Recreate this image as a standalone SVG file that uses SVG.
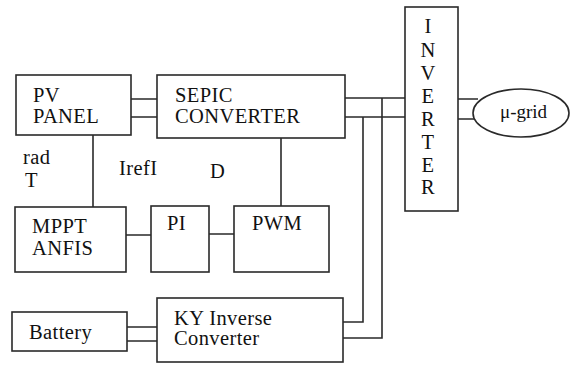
<svg xmlns="http://www.w3.org/2000/svg" width="571" height="367" viewBox="0 0 571 367">
<style>
.box{fill:#fff;stroke:#2a2a2a;stroke-width:1.6}
.ln{fill:none;stroke:#2a2a2a;stroke-width:1.6}
text{font-family:"Liberation Serif","Times New Roman",serif;font-size:20.5px;letter-spacing:0.4px;fill:#111}
.inv{text-anchor:middle}
</style>
<rect width="571" height="367" fill="#fff"/>
<g id="connectors">
<path class="ln" d="M131 99H157M131 117H157"/>
<path class="ln" d="M93 135V207"/>
<path class="ln" d="M281 138V206"/>
<path class="ln" d="M126 235H151M209 234H234"/>
<path class="ln" d="M345 98H405M345 117H405"/>
<path class="ln" d="M382 98V338H343M363 117V322H343"/>
<path class="ln" d="M127 327H157M127 341H157"/>
<path class="ln" d="M458 99H478M458 119H476"/>
</g>
<g id="pv">
<rect class="box" x="16" y="75" width="115" height="60"/>
<text x="33" y="102">PV</text>
<text x="33" y="123">PANEL</text>
</g>
<g id="sepic">
<rect class="box" x="157" y="75" width="188" height="63"/>
<text x="175" y="102">SEPIC</text>
<text x="175" y="123">CONVERTER</text>
</g>
<g id="mppt">
<rect class="box" x="15" y="207" width="111" height="65"/>
<text x="32" y="233">MPPT</text>
<text x="32" y="255">ANFIS</text>
</g>
<g id="pi">
<rect class="box" x="151" y="206" width="58" height="66"/>
<text x="167" y="230">PI</text>
</g>
<g id="pwm">
<rect class="box" x="234" y="206" width="95" height="66"/>
<text x="252" y="230">PWM</text>
</g>
<g id="inverter">
<rect class="box" x="405" y="7" width="53" height="204"/>
<text class="inv" x="428" y="33">I</text>
<text class="inv" x="428" y="57">N</text>
<text class="inv" x="428" y="80">V</text>
<text class="inv" x="428" y="103">E</text>
<text class="inv" x="428" y="126">R</text>
<text class="inv" x="428" y="149">T</text>
<text class="inv" x="428" y="172">E</text>
<text class="inv" x="428" y="194">R</text>
</g>
<g id="grid">
<ellipse class="box" cx="521" cy="113" rx="48" ry="24"/>
<text x="500" y="118" style="font-size:19px;letter-spacing:0">μ-grid</text>
</g>
<g id="battery">
<rect class="box" x="12" y="312" width="115" height="39"/>
<text x="29" y="339">Battery</text>
</g>
<g id="ky">
<rect class="box" x="157" y="298" width="186" height="64"/>
<text x="174" y="325">KY Inverse</text>
<text x="174" y="345">Converter</text>
</g>
<g id="labels">
<text x="23" y="164">rad</text>
<text x="25" y="187">T</text>
<text x="119" y="175">IrefI</text>
<text x="210" y="178">D</text>
</g>
</svg>
